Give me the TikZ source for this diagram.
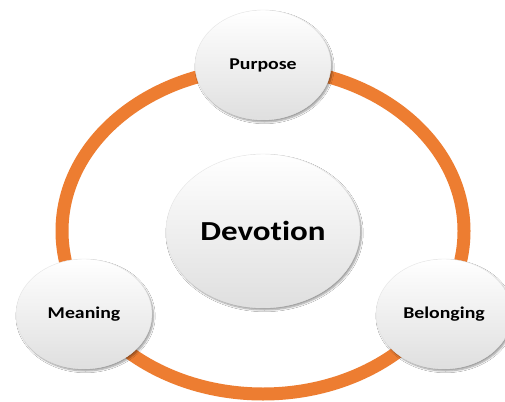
\documentclass[tikz,border=0pt]{standalone}
\usepackage{fontspec}
\setsansfont[FakeStretch=1.2,Ligatures=NoCommon]{Carlito}
\usetikzlibrary{shapes.geometric,shadows.blur}
\definecolor{ringorange}{RGB}{237,125,49}
\begin{document}
\begin{tikzpicture}[x=1pt,y=-1pt,
    bubble/.style={ellipse,minimum width=136pt,minimum height=110pt,inner sep=0pt,
      top color=white,middle color=white,bottom color=gray!25,draw=gray!20,
      blur shadow={shadow xshift=1.5pt,shadow yshift=-2pt,shadow blur steps=6,shadow opacity=40},
      font=\sffamily\bfseries\fontsize{16.5}{20}\selectfont},
    hub/.style={bubble,minimum width=194pt,minimum height=154pt,
      font=\sffamily\bfseries\fontsize{27.5}{32}\selectfont}]
    \useasboundingbox (0,0) rectangle (505,401);
    \clip (0,0) rectangle (505,401);
    \fill[white] (0,0) rectangle (505,401);
    % the ring behind the bubbles
    \draw[ringorange,line width=13pt] (263,231) ellipse [x radius=201,y radius=163];
    \node[hub] (devotion) at (263,231) {Devotion};
    \node[bubble] (purpose) at (263,65) {Purpose};
    \node[bubble] (meaning) at (84,314) {Meaning};
    \node[bubble] (belonging) at (444,314) {Belonging};
\end{tikzpicture}
\end{document}
